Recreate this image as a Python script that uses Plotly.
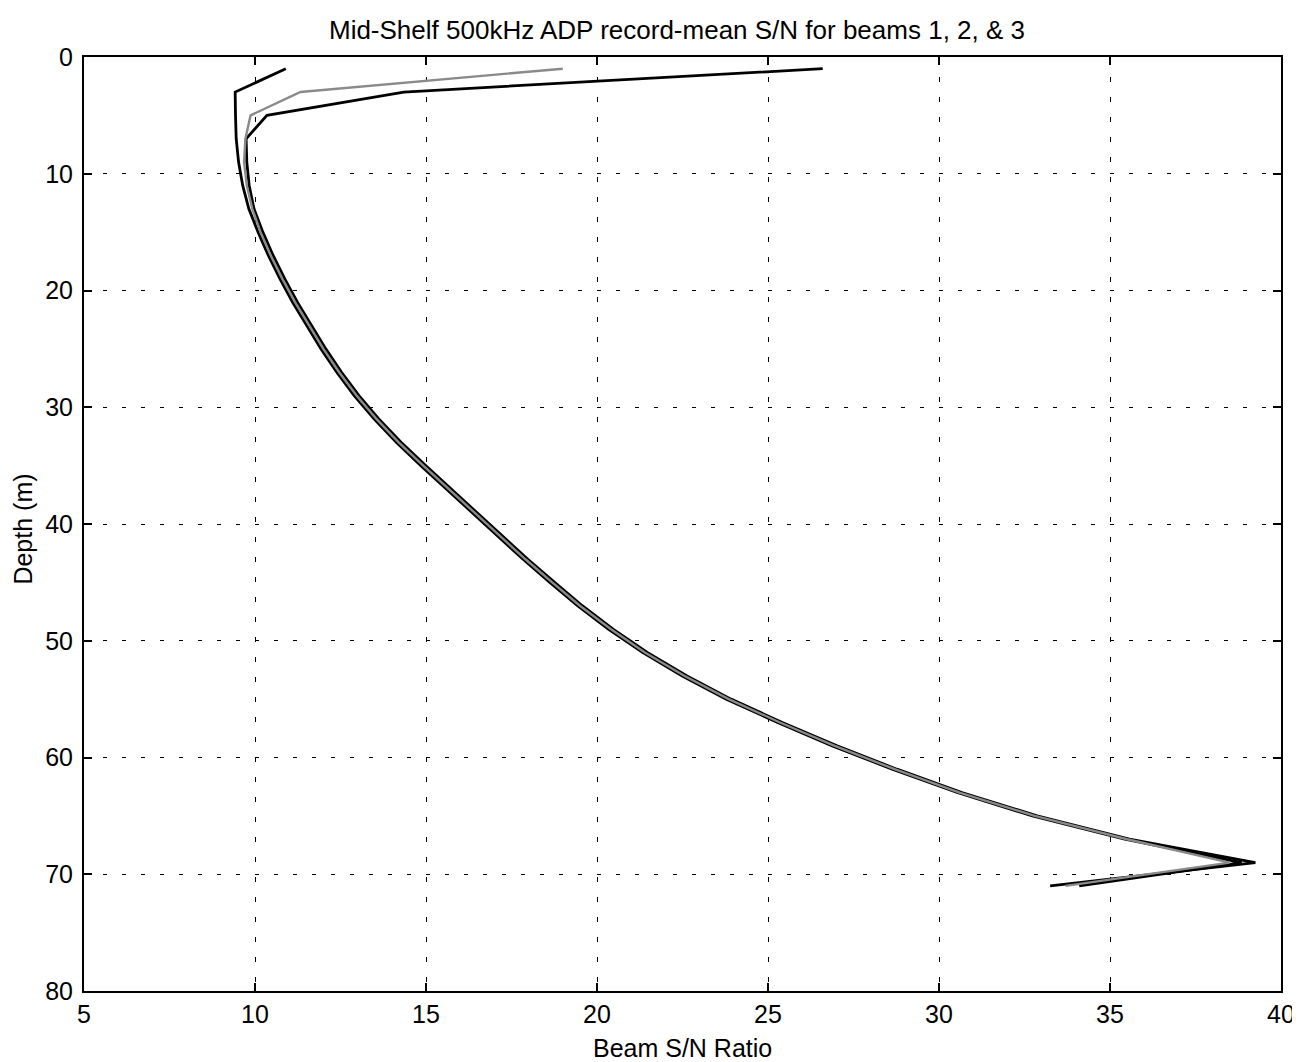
import plotly.graph_objects as go

depth_m = [1, 3, 5, 7, 9, 11, 13, 15, 17, 19, 21, 23, 25, 27, 29, 31, 33, 35,
           37, 39, 41, 43, 45, 47, 49, 51, 53, 55, 57, 59, 61, 63, 65, 67, 69, 71]

beam1_sn = [10.9, 9.42, 9.43, 9.45, 9.52, 9.64, 9.82, 10.09, 10.39, 10.73, 11.1, 11.51,
            11.93, 12.39, 12.9, 13.48, 14.13, 14.85, 15.59, 16.33, 17.07, 17.83, 18.62,
            19.43, 20.33, 21.33, 22.48, 23.78, 25.28, 26.88, 28.63, 30.53, 32.73, 35.43,
            38.85, 34.1]

beam2_sn = [19.0, 11.33, 9.87, 9.72, 9.68, 9.76, 9.92, 10.16, 10.46, 10.8, 11.17, 11.58,
            12.0, 12.46, 12.97, 13.55, 14.2, 14.92, 15.66, 16.4, 17.14, 17.9, 18.69,
            19.5, 20.4, 21.4, 22.55, 23.85, 25.35, 26.95, 28.7, 30.6, 32.8, 35.5,
            38.5, 33.7]

beam3_sn = [26.6, 14.35, 10.35, 9.74, 9.76, 9.83, 9.97, 10.23, 10.53, 10.87, 11.24, 11.65,
            12.07, 12.53, 13.04, 13.62, 14.27, 14.99, 15.73, 16.47, 17.21, 17.97, 18.76,
            19.57, 20.47, 21.47, 22.62, 23.92, 25.42, 27.02, 28.77, 30.67, 32.87, 35.57,
            39.25, 33.25]

x_ticks = [5, 10, 15, 20, 25, 30, 35, 40]
y_ticks = [0, 10, 20, 30, 40, 50, 60, 70, 80]

FONT = "Liberation Sans, Arial, Helvetica, sans-serif"

W, H = 1292, 1054
ML, MR, MT, MB = 76, 19, 49, 71

fig = go.Figure()
fig.add_trace(go.Scatter(x=beam1_sn, y=depth_m, mode="lines", name="beam 1",
                         line=dict(color="#000000", width=2.8)))
fig.add_trace(go.Scatter(x=beam3_sn, y=depth_m, mode="lines", name="beam 3",
                         line=dict(color="#000000", width=2.8)))
fig.add_trace(go.Scatter(x=beam2_sn, y=depth_m, mode="lines", name="beam 2",
                         line=dict(color="#8a8a8a", width=2.4)))

axis_common = dict(
    showline=True, linecolor="black", linewidth=2, mirror="ticks",
    ticks="inside", ticklen=8, tickwidth=1.5, tickcolor="black",
    showgrid=True, gridcolor="black", gridwidth=1, automargin=False,
    zeroline=False, tickfont=dict(family=FONT, size=25, color="black"),
)

fig.update_layout(
    width=W, height=H,
    margin=dict(l=ML, r=MR, t=MT, b=MB, autoexpand=False),
    paper_bgcolor="white", plot_bgcolor="white",
    showlegend=False,
    title=dict(text="Mid-Shelf 500kHz ADP record-mean S/N for beams 1, 2, & 3",
               x=(677 - 8) / W, xanchor="center", y=1 - 22 / H, yanchor="middle",
               font=dict(family=FONT, size=26, color="black")),
    xaxis=dict(range=[5, 40], tickvals=x_ticks, ticktext=[str(v) for v in x_ticks],
               griddash="5px,15px", **axis_common),
    yaxis=dict(range=[80, 0], tickvals=y_ticks, ticktext=[str(v) for v in y_ticks],
               griddash="4px,15px", ticklabelstandoff=4, **axis_common),
    annotations=[
        dict(text="Beam S/N Ratio", xref="paper", yref="paper", x=0.5, y=0,
             xanchor="center", yanchor="middle", yshift=-57, showarrow=False,
             font=dict(family=FONT, size=25, color="black")),
        dict(text="Depth (m)", xref="paper", yref="paper", x=0, y=0.494,
             xanchor="center", yanchor="middle", xshift=-61, textangle=-90,
             showarrow=False, font=dict(family=FONT, size=25, color="black")),
    ],
)

fig.write_html("out.html")
